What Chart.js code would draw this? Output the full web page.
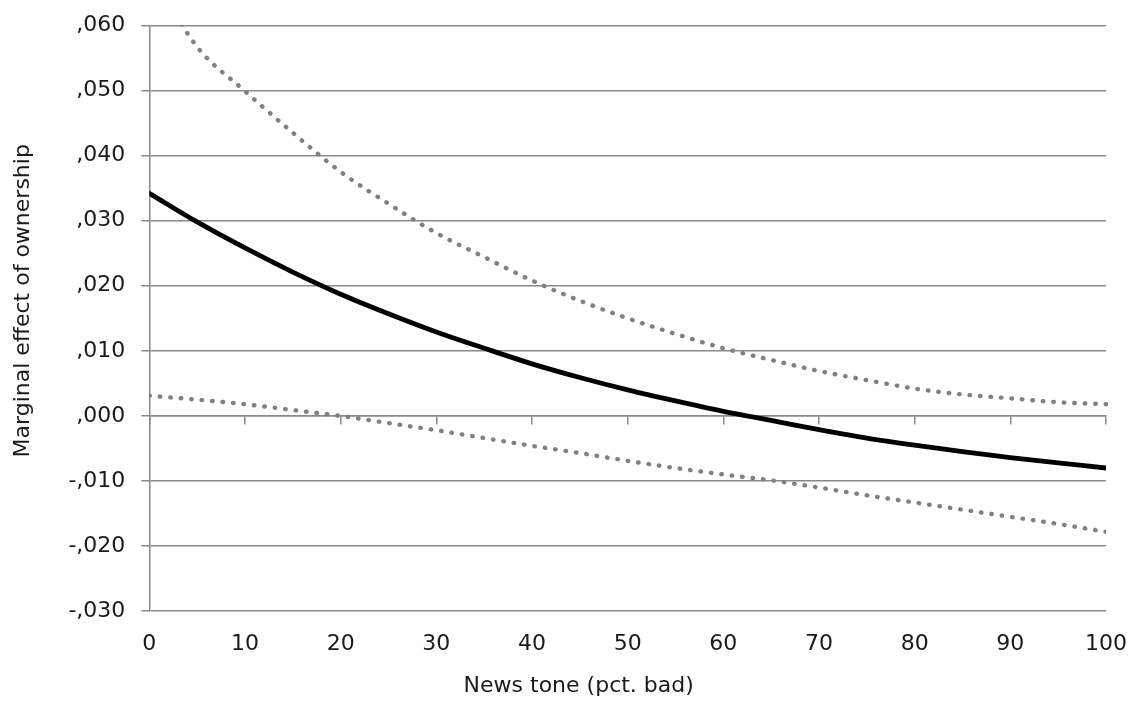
<!DOCTYPE html>
<html>
<head>
<meta charset="utf-8">
<script src="https://cdn.jsdelivr.net/npm/chart.js@4"></script>
<style>
  html, body { margin: 0; padding: 0; background: #fff; }
  #wrap { width: 1133px; height: 715px; }
</style>
</head>
<body>
<div id="wrap"><canvas id="effectChart"></canvas></div>
<script>
// News tone (pct. bad) on the x axis
const tone = [0, 5, 10, 15, 20, 25, 30, 35, 40, 45, 50, 55, 60, 65, 70, 75, 80, 85, 90, 95, 100];
// Marginal effect of ownership, point estimate
const effect = [0.0342, 0.0298, 0.0258, 0.0221, 0.0187, 0.0157, 0.0129, 0.0104, 0.0080, 0.0059, 0.0040,
                0.0023, 0.0007, -0.0007, -0.0021, -0.0034, -0.0045, -0.0055, -0.0064, -0.0072, -0.0080];
// Upper and lower confidence bounds
const upper = [0.0685, 0.0567, 0.0499, 0.0435, 0.0375, 0.0326, 0.0281, 0.0244, 0.0208, 0.0177, 0.0150,
               0.0126, 0.0104, 0.0086, 0.0069, 0.0055, 0.0042, 0.0033, 0.0027, 0.0021, 0.0018];
const lower = [0.0031, 0.0025, 0.0018, 0.0009, 0.0000, -0.0011, -0.0022, -0.0034, -0.0046, -0.0057, -0.0069,
               -0.0080, -0.0090, -0.0099, -0.0110, -0.0122, -0.0133, -0.0144, -0.0155, -0.0166, -0.0178];
const yTicks = [-0.03, -0.02, -0.01, 0, 0.01, 0.02, 0.03, 0.04, 0.05, 0.06];

const toPoints = (ys) => ys.map((y, i) => ({ x: tone[i], y: y }));
const fmt = (v) => {
    const s = Math.abs(v).toFixed(3).replace(/^0/, '').replace('.', ',');
    return (v < -1e-9 ? '-' : '') + s;
};
// titles sit a bit off-centre in the original, nudge them with non-breaking spaces
const pad = (n) => '\u00a0'.repeat(n);

const gridGrey = '#898989';
const dotGrey = '#808080';
const textColor = '#1a1a1a';
const font = { family: '"DejaVu Sans", sans-serif', size: 22 };
const yTickFont = { family: '"DejaVu Sans", sans-serif', size: 22, lineHeight: 0.85 };

const dotted = {
    borderColor: dotGrey,
    borderWidth: 4.4,
    borderDash: [0.5, 10],
    borderCapStyle: 'round',
    pointRadius: 0,
    cubicInterpolationMode: 'monotone',
    fill: false
};

const ctx = document.getElementById('effectChart').getContext('2d');
new Chart(ctx, {
    type: 'line',
    data: {
        datasets: [
            Object.assign({ label: 'Upper', data: toPoints(upper), clip: { top: 0, left: 5, right: 5, bottom: 5 } }, dotted),
            Object.assign({ label: 'Lower', data: toPoints(lower) }, dotted),
            {
                label: 'Effect',
                data: toPoints(effect),
                borderColor: '#000',
                borderWidth: 4.8,
                borderCapStyle: 'round',
                pointRadius: 0,
                cubicInterpolationMode: 'monotone',
                fill: false
            }
        ]
    },
    options: {
        responsive: true,
        maintainAspectRatio: false,
        animation: false,
        layout: { padding: { top: 6, right: 4, left: 8, bottom: 16 } },
        plugins: {
            legend: { display: false },
            tooltip: { enabled: false }
        },
        scales: {
            x: {
                type: 'linear',
                min: 0,
                max: 100,
                position: 'bottom',
                afterFit: (scale) => { scale.paddingRight = 27; },
                grid: { display: false },
                border: { display: false },
                ticks: { stepSize: 10, color: textColor, font: font, padding: 12, maxRotation: 0 },
                title: { display: true, text: 'News tone (pct. bad)' + pad(14), color: textColor, font: font, padding: { top: 3, bottom: 0 } }
            },
            xZero: {
                type: 'linear',
                min: 0,
                max: 100,
                position: { y: 0 },
                grid: { drawOnChartArea: false, drawTicks: true, tickLength: 8, color: gridGrey, lineWidth: 1.5 },
                border: { display: true, color: gridGrey, width: 1.5 },
                ticks: { stepSize: 10, display: false }
            },
            y: {
                type: 'linear',
                min: -0.03,
                max: 0.06,
                afterBuildTicks: (axis) => { axis.ticks = yTicks.map(v => ({ value: v })); },
                grid: { color: gridGrey, lineWidth: 1.5, drawTicks: true, tickLength: 8 },
                border: { display: true, color: gridGrey, width: 1.5 },
                ticks: { color: textColor, font: yTickFont, padding: 16, callback: (v) => fmt(v) },
                title: { display: true, text: pad(5) + 'Marginal effect of ownership', color: textColor, font: font, padding: { top: 2, bottom: 16 } }
            }
        }
    }
});
</script>
</body>
</html>
